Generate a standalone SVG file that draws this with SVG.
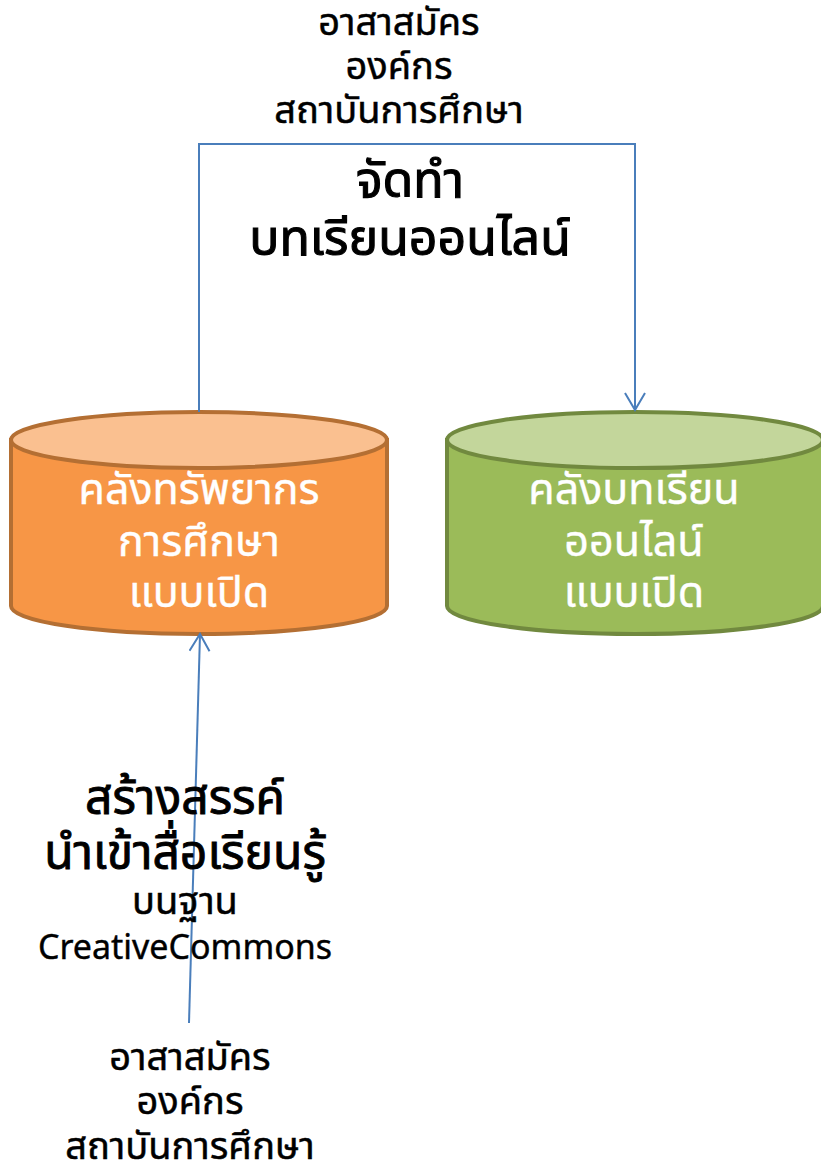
<svg xmlns="http://www.w3.org/2000/svg" width="821" height="1162" viewBox="0 0 821 1162">
<style>
text{font-family:Tahoma,"Noto Sans Thai","Noto Sans Thai UI",Loma,Garuda,"DejaVu Sans","Noto Sans",sans-serif;text-anchor:middle;}
.lbl{font-size:38px;fill:#000;stroke:#000;stroke-width:0.5;}
.big{font-size:50px;fill:#000;stroke:#000;stroke-width:1.1;}
.mid{font-size:48px;fill:#000;stroke:#000;stroke-width:0.9;}
.cyl{font-size:43px;fill:#fff;stroke:#fff;stroke-width:0.4;}
.cc{font-size:34px;fill:#000;stroke:#000;stroke-width:0.4;}
.conn{fill:none;stroke:#4A7EBB;stroke-width:2;}
</style>
<defs>
<marker id="arr" viewBox="-19 -11 21 22" refX="0" refY="0" markerWidth="21" markerHeight="22" orient="auto" markerUnits="userSpaceOnUse">
<path d="M-17,-10 L0,0 L-17,10" fill="none" stroke="#4A7EBB" stroke-width="2"/>
</marker>
</defs>
<g id="cyl-left">
<path d="M11,440 L11,606 A188,28 0 0 0 387,606 L387,440 Z" fill="#F79646" stroke="#B46F33" stroke-width="4"/>
<ellipse cx="199" cy="440" rx="188" ry="28" fill="#FAC090" stroke="#B46F33" stroke-width="4"/>
<text class="cyl" x="199" y="504">คลังทรัพยากร</text>
<text class="cyl" x="199" y="556">การศึกษา</text>
<text class="cyl" x="199" y="607">แบบเปิด</text>
</g>
<g id="cyl-right">
<path d="M447,440 L447,606 A188,28 0 0 0 823,606 L823,440 Z" fill="#9BBB59" stroke="#71893F" stroke-width="4"/>
<ellipse cx="635" cy="440" rx="188" ry="28" fill="#C3D69B" stroke="#71893F" stroke-width="4"/>
<text class="cyl" x="634" y="504">คลังบทเรียน</text>
<text class="cyl" x="634" y="556">ออนไลน์</text>
<text class="cyl" x="634" y="607">แบบเปิด</text>
</g>
<g id="connectors">
<path class="conn" d="M199,412 L199,144 L635,144 L635,410" marker-end="url(#arr)"/>
<path class="conn" d="M189,1023 L200,634" marker-end="url(#arr)"/>
</g>
<g id="label-top">
<text class="lbl" x="399" y="35">อาสาสมัคร</text>
<text class="lbl" x="399" y="79">องค์กร</text>
<text class="lbl" x="399" y="123">สถาบันการศึกษา</text>
</g>
<g id="label-make">
<text class="big" x="410" y="197">จัดทำ</text>
<text class="big" x="410" y="255">บทเรียนออนไลน์</text>
</g>
<g id="label-create">
<text class="mid" x="185" y="814">สร้างสรรค์</text>
<text class="mid" x="185" y="869">นำเข้าสื่อเรียนรู้</text>
<text class="lbl" x="185" y="914">บนฐาน</text>
<text class="cc" x="185" y="959">CreativeCommons</text>
</g>
<g id="label-bottom">
<text class="lbl" x="190" y="1070">อาสาสมัคร</text>
<text class="lbl" x="190" y="1114">องค์กร</text>
<text class="lbl" x="190" y="1159">สถาบันการศึกษา</text>
</g>
</svg>
